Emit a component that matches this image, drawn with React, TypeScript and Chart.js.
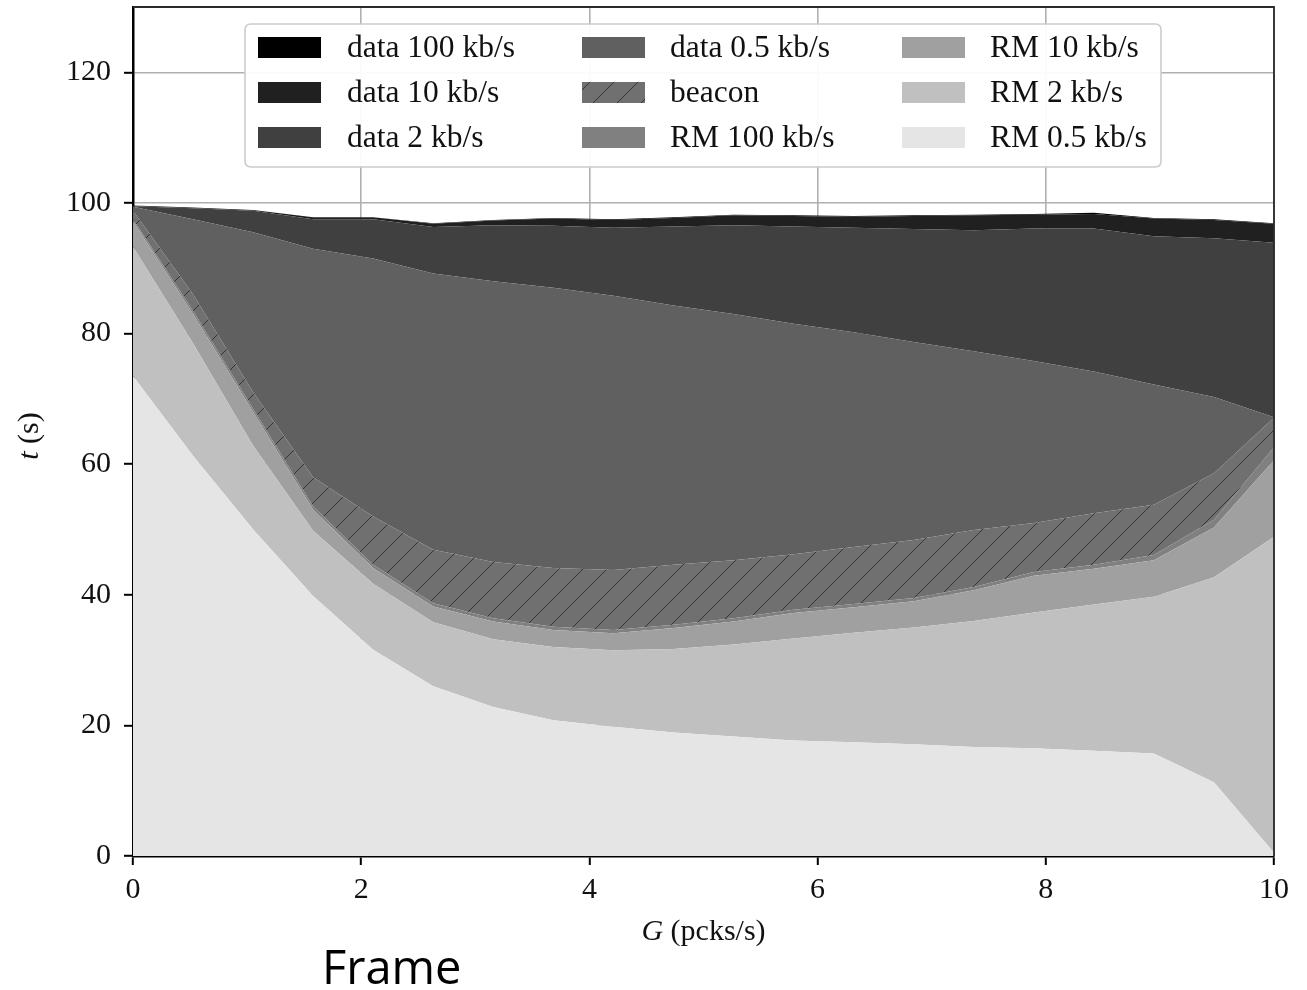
import React, { useEffect, useRef } from 'react';
import { Chart, registerables } from 'chart.js';

Chart.register(...registerables);

// G (pcks/s) sample points
const G_VALUES = [0, 0.526, 1.053, 1.579, 2.105, 2.632, 3.158, 3.684, 4.211, 4.737, 5.263, 5.789, 6.316, 6.842, 7.368, 7.895, 8.421, 8.947, 9.474, 10];

// per-layer times t (s), stacked bottom to top
const RM_05 = [73.5, 61.3, 50.0, 39.8, 31.6, 26.0, 22.8, 20.8, 19.8, 18.9, 18.3, 17.7, 17.4, 17.1, 16.7, 16.5, 16.1, 15.7, 11.3, 0.5];
const RM_2 = [19.8, 17.2, 12.8, 10.0, 10.1, 9.8, 10.4, 11.2, 11.7, 12.8, 14.1, 15.6, 16.8, 17.9, 19.3, 20.8, 22.4, 24.0, 31.4, 48.4];
const RM_10 = [3.9, 4.5, 5.2, 3.2, 2.4, 2.4, 2.7, 2.6, 2.6, 3.2, 3.5, 3.9, 3.9, 4.0, 4.7, 5.6, 5.5, 5.6, 7.6, 11.7];
const RM_100 = [0.3, 0.5, 0.5, 0.5, 0.5, 0.5, 0.5, 0.5, 0.5, 0.5, 0.5, 0.5, 0.5, 0.5, 0.5, 0.6, 0.6, 0.8, 1.2, 2.0];
const BEACON = [1.3, 2.5, 2.5, 4.5, 7.4, 8.2, 8.6, 9.0, 9.2, 9.2, 8.9, 8.5, 8.7, 8.9, 8.7, 7.5, 7.9, 7.7, 7.1, 4.5];
const DATA_05 = [0.6, 11.5, 24.5, 35.0, 39.5, 42.3, 43.0, 42.9, 42.0, 39.7, 37.7, 35.3, 32.9, 30.3, 27.4, 24.8, 21.7, 18.4, 11.7, 0.1];
const DATA_2 = [0.1, 1.7, 3.3, 4.5, 6.0, 7.1, 8.6, 9.5, 10.4, 12.1, 13.6, 14.9, 16.0, 17.3, 18.5, 20.3, 21.9, 22.7, 24.3, 26.7];
const DATA_10 = [0.1, 0.1, 0.1, 0.3, 0.3, 0.5, 0.7, 1.1, 1.2, 1.3, 1.5, 1.6, 1.7, 2.0, 2.3, 2.1, 2.2, 2.7, 2.8, 2.9];
const DATA_100 = [0.0, 0.0, 0.0, 0.0, 0.0, 0.1, 0.1, 0.1, 0.1, 0.1, 0.1, 0.1, 0.1, 0.1, 0.1, 0.1, 0.2, 0.1, 0.1, 0.1];

const X_TICKS = [0, 2, 4, 6, 8, 10];
const Y_TICKS = [0, 20, 40, 60, 80, 100, 120];

// series in stacking order (bottom first)
const SERIES = [
  { label: 'RM 0.5 kb/s', values: RM_05, color: '#e5e5e5' },
  { label: 'RM 2 kb/s', values: RM_2, color: '#c0c0c0' },
  { label: 'RM 10 kb/s', values: RM_10, color: '#a0a0a0' },
  { label: 'RM 100 kb/s', values: RM_100, color: '#808080' },
  { label: 'beacon', values: BEACON, color: '#707070', hatch: true },
  { label: 'data 0.5 kb/s', values: DATA_05, color: '#606060' },
  { label: 'data 2 kb/s', values: DATA_2, color: '#404040' },
  { label: 'data 10 kb/s', values: DATA_10, color: '#202020' },
  { label: 'data 100 kb/s', values: DATA_100, color: '#000000' },
];

// legend in column-major order
const LEGEND_ORDER = [
  'data 100 kb/s', 'data 10 kb/s', 'data 2 kb/s',
  'data 0.5 kb/s', 'beacon', 'RM 100 kb/s',
  'RM 10 kb/s', 'RM 2 kb/s', 'RM 0.5 kb/s',
];

const SERIF = '"Liberation Serif", "DejaVu Serif", serif';

function makeHatch(base: string): CanvasPattern | string {
  const s = 24;
  const c = document.createElement('canvas');
  c.width = s;
  c.height = s;
  const g = c.getContext('2d');
  if (!g) return base;
  g.fillStyle = base;
  g.fillRect(0, 0, s, s);
  g.strokeStyle = '#353535';
  g.lineWidth = 1;
  g.beginPath();
  g.moveTo(-2, s + 2);
  g.lineTo(s + 2, -2);
  g.stroke();
  const p = g.createPattern(c, 'repeat');
  return p || base;
}

export default function App() {
  const canvasRef = useRef<HTMLCanvasElement | null>(null);

  useEffect(() => {
    document.body.style.margin = '0';
    const canvas = canvasRef.current;
    if (!canvas) return;
    const hatch = makeHatch('#707070');

    const datasets = SERIES.map((s, i) => ({
      label: s.label,
      data: G_VALUES.map((x, j) => ({ x, y: s.values[j] })),
      backgroundColor: s.hatch ? hatch : s.color,
      borderColor: 'rgba(0,0,0,0)',
      borderWidth: 0,
      pointRadius: 0,
      pointHoverRadius: 0,
      tension: 0,
      fill: i === 0 ? 'origin' : '-1',
    }));

    const overlay = {
      id: 'overlay',
      afterDraw(chart: any) {
        const ctx = chart.ctx as CanvasRenderingContext2D;
        const { left, right, top, bottom } = chart.chartArea;
        ctx.save();
        // top & right spines
        ctx.strokeStyle = '#2a2a2a';
        ctx.lineWidth = 1.8;
        ctx.beginPath();
        ctx.moveTo(left, top);
        ctx.lineTo(right, top);
        ctx.lineTo(right, bottom);
        ctx.stroke();

        // x axis title
        ctx.fillStyle = '#111';
        ctx.textBaseline = 'middle';
        const fs = 30;
        ctx.font = `italic ${fs}px ${SERIF}`;
        const gW = ctx.measureText('G').width;
        ctx.font = `${fs}px ${SERIF}`;
        const restX = ' (pcks/s)';
        const rW = ctx.measureText(restX).width;
        const cx = (left + right) / 2;
        const x0 = cx - (gW + rW) / 2;
        ctx.font = `italic ${fs}px ${SERIF}`;
        ctx.textAlign = 'left';
        ctx.fillText('G', x0, 932);
        ctx.font = `${fs}px ${SERIF}`;
        ctx.fillText(restX, x0 + gW, 932);

        // y axis title
        ctx.save();
        ctx.translate(30, 436);
        ctx.rotate(-Math.PI / 2);
        ctx.font = `italic ${fs}px ${SERIF}`;
        const tW = ctx.measureText('t').width;
        ctx.font = `${fs}px ${SERIF}`;
        const restY = ' (s)';
        const sW = ctx.measureText(restY).width;
        const y0 = -(tW + sW) / 2;
        ctx.font = `italic ${fs}px ${SERIF}`;
        ctx.fillText('t', y0, 0);
        ctx.font = `${fs}px ${SERIF}`;
        ctx.fillText(restY, y0 + tW, 0);
        ctx.restore();

        // legend box
        const bx = 245, by = 24, bw = 1161 - 245, bh = 167 - 24, r = 6;
        ctx.beginPath();
        ctx.moveTo(bx + r, by);
        ctx.lineTo(bx + bw - r, by);
        ctx.quadraticCurveTo(bx + bw, by, bx + bw, by + r);
        ctx.lineTo(bx + bw, by + bh - r);
        ctx.quadraticCurveTo(bx + bw, by + bh, bx + bw - r, by + bh);
        ctx.lineTo(bx + r, by + bh);
        ctx.quadraticCurveTo(bx, by + bh, bx, by + bh - r);
        ctx.lineTo(bx, by + r);
        ctx.quadraticCurveTo(bx, by, bx + r, by);
        ctx.closePath();
        ctx.fillStyle = 'rgba(255,255,255,0.95)';
        ctx.fill();
        ctx.strokeStyle = '#cccccc';
        ctx.lineWidth = 1.6;
        ctx.stroke();

        const swX = [258, 582, 902];
        const txX = [347, 670, 990];
        const rowY = [47.5, 92.5, 137.5];
        ctx.font = `31.5px ${SERIF}`;
        ctx.textBaseline = 'middle';
        ctx.textAlign = 'left';
        LEGEND_ORDER.forEach((lab, k) => {
          const col = Math.floor(k / 3);
          const row = k % 3;
          const s = SERIES.find((q) => q.label === lab)!;
          ctx.fillStyle = s.hatch ? (hatch as any) : s.color;
          ctx.fillRect(swX[col], rowY[row] - 10.5, 63, 21);
          ctx.fillStyle = '#111';
          ctx.fillText(lab, txX[col], rowY[row] + 1);
        });
        ctx.restore();
      },
    };

    const chart = new Chart(canvas, {
      type: 'line',
      data: { datasets: datasets as any },
      options: {
        responsive: false,
        animation: false,
        devicePixelRatio: 1,
        events: [],
        layout: { padding: { top: 7, right: 33, left: 0, bottom: 0 } },
        plugins: {
          legend: { display: false },
          tooltip: { enabled: false },
          title: { display: false },
        },
        scales: {
          x: {
            type: 'linear',
            min: 0,
            max: 10,
            z: 1,
            afterFit: (s: any) => {
              s.height = 990 - 856;
              s.paddingLeft = 0;
              s.paddingRight = 0;
            },
            afterBuildTicks: (s: any) => { s.ticks = X_TICKS.map((v) => ({ value: v })); },
            grid: {
              color: '#b0b0b0',
              lineWidth: 1.6,
              tickColor: '#000',
              tickLength: 9,
              tickWidth: 2,
              drawTicks: true,
            },
            border: { display: true, color: '#000', width: 2.5 },
            ticks: {
              font: { family: SERIF, size: 30 },
              color: '#111',
              padding: 7,
              maxRotation: 0,
              callback: (v: any) => String(v),
            },
          },
          y: {
            type: 'linear',
            stacked: true,
            min: 0,
            max: 130,
            z: 1,
            afterFit: (s: any) => {
              s.width = 133;
              s.paddingTop = 0;
              s.paddingBottom = 0;
            },
            afterBuildTicks: (s: any) => { s.ticks = Y_TICKS.map((v) => ({ value: v })); },
            grid: {
              color: '#b0b0b0',
              lineWidth: 1.6,
              tickColor: '#000',
              tickLength: 9,
              tickWidth: 2,
              drawTicks: true,
            },
            border: { display: true, color: '#000', width: 2.5 },
            ticks: {
              font: { family: SERIF, size: 30 },
              color: '#111',
              padding: 13,
              callback: (v: any) => String(v),
            },
          },
        },
      },
      plugins: [overlay],
    });

    return () => {
      chart.destroy();
    };
  }, []);

  return (
    <div style={{ position: 'relative', width: 1307, height: 990, overflow: 'hidden' }}>
      <canvas ref={canvasRef} width={1307} height={990} style={{ display: 'block' }} />
      <div
        style={{
          position: 'absolute',
          left: 322,
          top: 943,
          fontFamily: '"Open Sans", sans-serif',
          fontSize: 47,
          lineHeight: '47px',
          color: '#000',
          whiteSpace: 'nowrap',
        }}
      >
        Frame
      </div>
    </div>
  );
}
